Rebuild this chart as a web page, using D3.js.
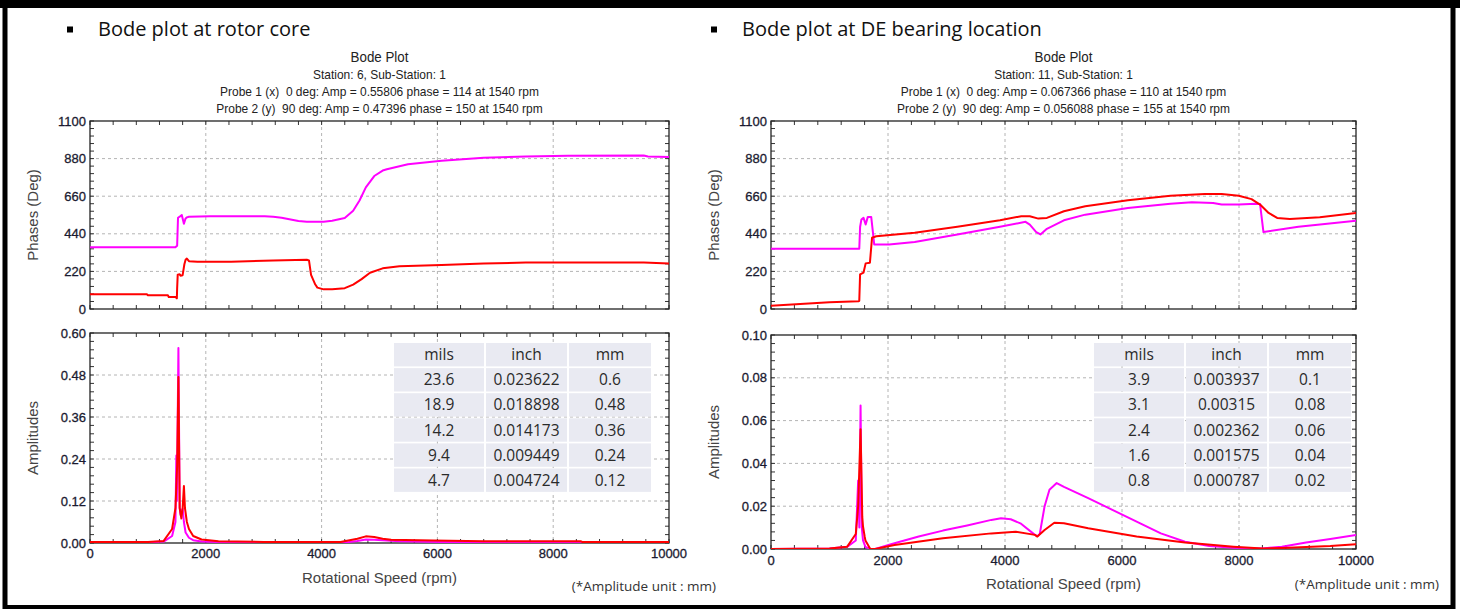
<!DOCTYPE html>
<html>
<head>
<meta charset="utf-8">
<script src="https://cdn.jsdelivr.net/npm/d3@7"></script>
<style>
  html, body { margin: 0; padding: 0; background: #fff; }
  svg { display: block; }
</style>
</head>
<body>
<svg id="chart" width="1460" height="609"></svg>
<script>
// ---- axis ticks ----
const rpmTicks = [0, 2000, 4000, 6000, 8000, 10000];
const phaseTicks = [0, 220, 440, 660, 880, 1100];
const ampTicksCore = [0, 0.12, 0.24, 0.36, 0.48, 0.60];
const ampTicksDE = [0, 0.02, 0.04, 0.06, 0.08, 0.10];

// ---- headings ----
const headingCore = "Bode plot at rotor core";
const headingDE = "Bode plot at DE bearing location";
const titleCore = ["Bode Plot", "Station: 6, Sub-Station: 1",
  "Probe 1 (x)  0 deg: Amp = 0.55806 phase = 114 at 1540 rpm",
  "Probe 2 (y)  90 deg: Amp = 0.47396 phase = 150 at 1540 rpm"];
const titleDE = ["Bode Plot", "Station: 11, Sub-Station: 1",
  "Probe 1 (x)  0 deg: Amp = 0.067366 phase = 110 at 1540 rpm",
  "Probe 2 (y)  90 deg: Amp = 0.056088 phase = 155 at 1540 rpm"];

// ---- unit conversion tables ----
const tableHeader = ["mils", "inch", "mm"];
const tableCore = [
  ["23.6", "0.023622", "0.6"],
  ["18.9", "0.018898", "0.48"],
  ["14.2", "0.014173", "0.36"],
  ["9.4", "0.009449", "0.24"],
  ["4.7", "0.004724", "0.12"]];
const tableDE = [
  ["3.9", "0.003937", "0.1"],
  ["3.1", "0.00315", "0.08"],
  ["2.4", "0.002362", "0.06"],
  ["1.6", "0.001575", "0.04"],
  ["0.8", "0.000787", "0.02"]];

// ---- rotor core: phase [rpm, deg] ----
const corePhaseY = [[0,362],[1476,362],[1505,370],[1520,534],[1549,540],[1585,550],[1600,530],[1622,499],
  [1651,530],[1673,536],[1709,540],[2073,543],[3018,543],[3164,540],[3309,534],[3600,515],[3745,510],
  [4036,510],[4182,516],[4400,532],[4545,575],[4655,635],[4764,712],[4909,778],[5055,810],[5127,818],
  [5491,847],[6073,868],[6800,885],[7527,893],[8255,897],[9564,898],[9636,892],[10000,890]];
const corePhaseX = [[0,86],[982,86],[1000,80],[1345,80],[1360,70],[1476,70],[1500,62],[1505,120],[1515,201],
  [1549,203],[1564,195],[1600,198],[1630,262],[1651,288],[1673,295],[1709,280],[1855,276],[2436,276],
  [3164,284],[3745,288],[3782,284],[3818,200],[3891,143],[3927,125],[4036,115],[4182,115],[4400,122],
  [4545,143],[4691,175],[4836,212],[5055,238],[5345,250],[6073,258],[6800,266],[7527,272],[9564,272],
  [10000,266]];

// ---- rotor core: amplitude [rpm, mm] ----
const coreAmpY = [[0,0.002],[1000,0.002],[1273,0.004],[1418,0.02],[1476,0.06],[1491,0.25],[1500,0.12],
  [1527,0.557],[1549,0.1],[1564,0.08],[1578,0.09],[1600,0.098],[1622,0.06],[1651,0.03],[1709,0.015],
  [1782,0.008],[1927,0.004],[2218,0.003],[4000,0.002],[4473,0.003],[4618,0.006],[4764,0.01],[4909,0.009],
  [5055,0.008],[5345,0.005],[6073,0.003],[7000,0.002],[10000,0.001]];
const coreAmpX = [[0,0.003],[1000,0.003],[1273,0.006],[1418,0.04],[1476,0.1],[1505,0.22],[1527,0.474],
  [1549,0.1],[1578,0.07],[1600,0.1],[1622,0.163],[1640,0.1],[1673,0.06],[1709,0.04],[1782,0.02],
  [1927,0.01],[2218,0.005],[3000,0.003],[4327,0.003],[4618,0.012],[4764,0.019],[4909,0.017],[5055,0.012],
  [5200,0.009],[5927,0.007],[6800,0.005],[8473,0.005],[8500,0.003],[10000,0.003]];

// ---- DE bearing: phase [rpm, deg] ----
const dePhaseY = [[0,353],[1509,353],[1523,480],[1545,523],[1582,533],[1618,494],[1655,539],[1713,539],
  [1742,450],[1764,378],[2019,378],[2456,392],[3185,436],[3914,481],[4351,510],[4424,494],[4534,450],
  [4606,436],[4716,469],[5007,519],[5372,552],[6100,591],[6829,616],[7194,624],[7558,620],[7704,611],
  [7996,611],[8287,616],[8360,614],[8418,450],[9016,481],[10000,517]];
const dePhaseX = [[0,19],[999,39],[1494,45],[1509,48],[1523,203],[1582,213],[1618,267],[1691,271],
  [1727,417],[1800,426],[2456,446],[3185,481],[3914,519],[4278,543],[4424,543],[4570,529],[4716,533],
  [5007,572],[5372,601],[6100,636],[6829,663],[7413,673],[7704,673],[7996,663],[8214,643],[8360,611],
  [8506,562],[8652,533],[8870,527],[9381,537],[10000,562]];

// ---- DE bearing: amplitude [rpm, mm] ----
const deAmpY = [[0,0],[1000,0.0002],[1300,0.001],[1449,0.004],[1490,0.032],[1510,0.01],[1531,0.067],
  [1552,0.01],[1573,0.004],[1614,0.001],[1697,0],[1780,0],[2111,0.0027],[2525,0.0058],[2939,0.0086],
  [3353,0.011],[3767,0.0136],[3932,0.0144],[4098,0.0139],[4263,0.012],[4512,0.0066],[4553,0.006],
  [4594,0.007],[4677,0.02],[4760,0.0277],[4884,0.0308],[5008,0.029],[5422,0.0238],[5836,0.0183],
  [6250,0.0128],[6664,0.0073],[7078,0.0034],[7492,0.0014],[7906,0.0006],[8402,0.0002],[8733,0.0011],
  [9147,0.003],[9561,0.0047],[10000,0.0066]];
const deAmpX = [[0,0],[1000,0.0002],[1300,0.001],[1449,0.007],[1490,0.02],[1531,0.056],[1560,0.015],
  [1573,0.0105],[1600,0.006],[1614,0.004],[1656,0.002],[1697,0],[1780,0],[2111,0.0019],[2939,0.005],
  [3767,0.0073],[4180,0.0081],[4512,0.0066],[4553,0.0058],[4677,0.0089],[4843,0.0123],[5008,0.012],
  [5422,0.0097],[6250,0.0058],[7078,0.003],[7906,0.0011],[8402,0.0002],[8733,0.0005],[9561,0.0014],
  [10000,0.0022]];

const probeYColor = "#ff00ff";
const probeXColor = "#ff0000";
const sansNarrow = "'Liberation Sans', Arial, sans-serif";
const sansKr = "'Open Sans', 'Noto Sans', sans-serif";

const svg = d3.select("#chart");

// page frame
svg.append("rect").attr("x", 0).attr("y", 0).attr("width", 1460).attr("height", 609).attr("fill", "#fff");
svg.append("rect").attr("x", 5).attr("y", 4.5).attr("width", 1448).attr("height", 603)
  .attr("fill", "none").attr("stroke", "#000").attr("stroke-width", 5);
svg.append("rect").attr("x", 0).attr("y", 0).attr("width", 1460).attr("height", 8).attr("fill", "#000");

const fmtPhase = d3.format("d");
const fmtAmp = d3.format(".2f");
let clipId = 0;

function plotBox(g, x, y, yTicks, yMinor, yFmt, showX, xLabelOffset) {
  const [x0, x1] = x.range();
  const [yb, yt] = y.range();

  // dashed grid
  g.append("g").selectAll("line").data(rpmTicks.slice(1, -1)).join("line")
    .attr("x1", d => x(d)).attr("x2", d => x(d)).attr("y1", yt).attr("y2", yb)
    .attr("stroke", "#b4b4b4").attr("stroke-dasharray", "3,3").attr("stroke-width", 1);
  g.append("g").selectAll("line").data(yTicks.slice(1, -1)).join("line")
    .attr("x1", x0).attr("x2", x1).attr("y1", d => y(d)).attr("y2", d => y(d))
    .attr("stroke", "#b4b4b4").attr("stroke-dasharray", "3,3").attr("stroke-width", 1);

  // inward tick marks on all four sides
  const xm = d3.range(0, 10001, 400);
  const ymax = y.domain()[1];
  const ym = d3.range(0, Math.round(ymax / yMinor) + 1).map(i => i * yMinor);
  const t = g.append("g").attr("stroke", "#333").attr("stroke-width", 1);
  t.selectAll(".tb").data(xm).join("line").attr("class", "tb")
    .attr("x1", d => x(d)).attr("x2", d => x(d)).attr("y1", yb).attr("y2", yb - 4);
  t.selectAll(".tt").data(xm).join("line").attr("class", "tt")
    .attr("x1", d => x(d)).attr("x2", d => x(d)).attr("y1", yt).attr("y2", yt + 4);
  t.selectAll(".tl").data(ym).join("line").attr("class", "tl")
    .attr("x1", x0).attr("x2", x0 + 4).attr("y1", d => y(d)).attr("y2", d => y(d));
  t.selectAll(".tr").data(ym).join("line").attr("class", "tr")
    .attr("x1", x1).attr("x2", x1 - 4).attr("y1", d => y(d)).attr("y2", d => y(d));

  // y labels
  g.append("g").selectAll("text").data(yTicks).join("text")
    .attr("x", x0 - 4).attr("y", d => y(d)).attr("dy", "0.35em")
    .attr("text-anchor", "end").attr("font-family", sansNarrow)
    .attr("font-size", 13).attr("fill", "#1a1a30")
    .attr("stroke", "#1a1a30").attr("stroke-width", 0.3).text(yFmt);

  if (showX) {
    g.append("g").selectAll("text").data(rpmTicks).join("text")
      .attr("x", d => x(d)).attr("y", yb + xLabelOffset).attr("dy", "0.35em")
      .attr("text-anchor", "middle").attr("font-family", sansNarrow)
      .attr("font-size", 13).attr("fill", "#1a1a30")
      .attr("stroke", "#1a1a30").attr("stroke-width", 0.3).text(d => d);
  }

  // frame
  g.append("rect").attr("x", x0).attr("y", yt).attr("width", x1 - x0).attr("height", yb - yt)
    .attr("fill", "none").attr("stroke", "#222").attr("stroke-width", 1.3);

  const id = "clip" + (clipId++);
  g.append("clipPath").attr("id", id).append("rect")
    .attr("x", x0).attr("y", yt - 1).attr("width", x1 - x0).attr("height", yb - yt + 1);
  return id;
}

function drawCurves(g, x, y, clip, series) {
  const line = d3.line().x(d => x(d[0])).y(d => y(d[1]));
  const cg = g.append("g").attr("clip-path", `url(#${clip})`);
  series.forEach(s => {
    cg.append("path").datum(s.data).attr("d", line).attr("fill", "none")
      .attr("stroke", s.color).attr("stroke-width", 2).attr("stroke-linejoin", "round");
  });
}

function drawTable(g, left, top, rows) {
  const colW = [90, 81, 82];
  const gap = 2;
  const rowH = 23.4, step = 25.1;
  const all = [tableHeader].concat(rows);
  const colX = [left, left + colW[0] + gap, left + colW[0] + colW[1] + 2 * gap];
  all.forEach((r, i) => {
    r.forEach((c, j) => {
      g.append("rect").attr("x", colX[j]).attr("y", top + i * step)
        .attr("width", colW[j]).attr("height", rowH).attr("fill", "#e9eaf2");
      g.append("text").attr("x", colX[j] + colW[j] / 2).attr("y", top + i * step + rowH / 2)
        .attr("dy", "0.36em").attr("text-anchor", "middle")
        .attr("font-family", sansKr).attr("font-size", 15.5)
        .attr("fill", "#2a2a2a").text(c);
    });
  });
}

function drawPanel(p) {
  const g = svg.append("g");
  const x = d3.scaleLinear().domain([0, 10000]).range([p.x0, p.x1]);
  const yP = d3.scaleLinear().domain([0, 1100]).range([p.phaseBottom, p.phaseTop]);
  const yA = d3.scaleLinear().domain([0, p.ampTicks[p.ampTicks.length - 1]]).range([p.ampBottom, p.ampTop]);
  const cx = (p.x0 + p.x1) / 2;

  // heading with square bullet
  g.append("rect").attr("x", p.bulletX).attr("y", 26.5).attr("width", 6).attr("height", 6).attr("fill", "#000");
  g.append("text").attr("x", p.bulletX + 31).attr("y", 36).attr("font-family", sansKr)
    .attr("font-size", 20).attr("fill", "#111").text(p.heading);

  // chart titles (slightly condensed lettering)
  p.titles.forEach((t, i) => {
    g.append("text")
      .attr("transform", `translate(${cx},${[57, 74, 91, 108][i]}) scale(0.92,1)`)
      .attr("dy", "0.35em")
      .attr("text-anchor", "middle").attr("font-family", sansNarrow)
      .attr("font-size", i === 0 ? 14.5 : 13).attr("fill", "#222")
      .style("white-space", "pre").text(t);
  });

  const c1 = plotBox(g, x, yP, phaseTicks, 44, fmtPhase, false, 0);
  drawCurves(g, x, yP, c1, [{data: p.phaseY, color: probeYColor}, {data: p.phaseX, color: probeXColor}]);

  const c2 = plotBox(g, x, yA, p.ampTicks, p.ampTicks[1] / 5, fmtAmp, true, p.xLabelOffset);
  drawCurves(g, x, yA, c2, [{data: p.ampY, color: probeYColor}, {data: p.ampX, color: probeXColor}]);

  drawTable(g, p.tableX, 343, p.table);

  // axis titles
  g.append("text").attr("transform", `translate(${p.x0 - 57},${(p.phaseTop + p.phaseBottom) / 2}) rotate(-90)`)
    .attr("text-anchor", "middle").attr("dy", "0.35em").attr("font-family", sansNarrow)
    .attr("font-size", 15).attr("fill", "#444").text("Phases (Deg)");
  g.append("text").attr("transform", `translate(${p.x0 - 57},${(p.ampTop + p.ampBottom) / 2}) rotate(-90)`)
    .attr("text-anchor", "middle").attr("dy", "0.35em").attr("font-family", sansNarrow)
    .attr("font-size", 15).attr("fill", "#444").text("Amplitudes");
  g.append("text").attr("x", cx).attr("y", p.ampBottom + p.xTitleOffset).attr("dy", "0.35em")
    .attr("text-anchor", "middle").attr("font-family", sansNarrow)
    .attr("font-size", 15).attr("fill", "#444").text("Rotational Speed (rpm)");
  g.append("text").attr("x", p.unitX).attr("y", p.unitY).attr("dy", "0.35em")
    .attr("text-anchor", "end").attr("font-family", sansKr)
    .attr("font-size", 13.5).attr("fill", "#333").text("(*Amplitude unit : mm)");
}

drawPanel({
  x0: 90, x1: 669, phaseTop: 121, phaseBottom: 309, ampTop: 333, ampBottom: 543,
  ampTicks: ampTicksCore, xLabelOffset: 10, xTitleOffset: 35,
  heading: headingCore, bulletX: 67, titles: titleCore,
  phaseY: corePhaseY, phaseX: corePhaseX, ampY: coreAmpY, ampX: coreAmpX,
  table: tableCore, tableX: 394, unitX: 716, unitY: 586
});
drawPanel({
  x0: 771, x1: 1356, phaseTop: 121, phaseBottom: 309, ampTop: 335, ampBottom: 549,
  ampTicks: ampTicksDE, xLabelOffset: 11, xTitleOffset: 35,
  heading: headingDE, bulletX: 711, titles: titleDE,
  phaseY: dePhaseY, phaseX: dePhaseX, ampY: deAmpY, ampX: deAmpX,
  table: tableDE, tableX: 1094, unitX: 1439, unitY: 584
});
</script>
</body>
</html>
